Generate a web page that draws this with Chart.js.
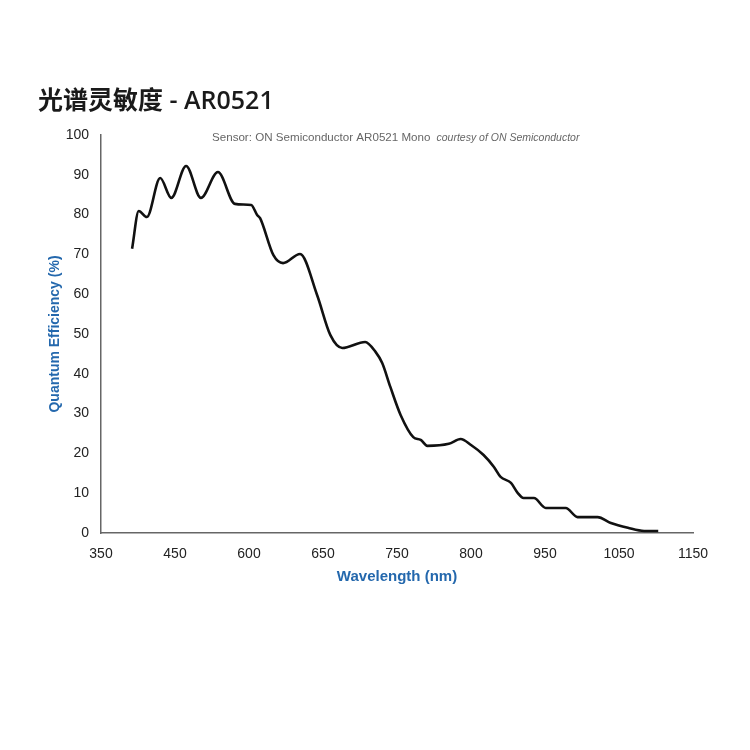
<!DOCTYPE html>
<html>
<head>
<meta charset="utf-8">
<script src="https://cdn.jsdelivr.net/npm/chart.js@4/dist/chart.umd.min.js"></script>
<style>
    html, body { margin: 0; padding: 0; background: #fff; }
    #wrap { width: 750px; height: 750px; position: relative; }
</style>
</head>
<body>
<div id="wrap"><canvas id="qeChart" width="750" height="750"></canvas></div>
<script>
// Позиции по оси X (в единицах шкалы 350..1150, шаг подписи = 100)
const wavelengthPos = [392, 401, 412, 430, 445, 465, 485, 508, 531, 553, 561, 565, 583, 596, 619, 642, 660, 676, 707, 721, 730, 741, 755, 772, 782, 791, 820, 836, 850, 867, 881, 890, 904, 913, 921, 935, 951, 978, 994, 1021, 1039, 1062, 1084, 1103];
// Квантовая эффективность, %
const qeValues = [71.4, 80.9, 79.4, 89.2, 84.2, 92.2, 84.2, 90.7, 82.7, 82.4, 79.9, 79.1, 69.8, 67.8, 70.1, 59.8, 49.7, 46.5, 48.0, 45.5, 42.7, 36.7, 29.6, 24.1, 23.4, 21.9, 22.4, 23.6, 22.1, 19.6, 16.6, 14.1, 12.6, 10.1, 8.8, 8.8, 6.3, 6.3, 4.0, 4.0, 2.5, 1.3, 0.5, 0.5];
// Подписи оси X как на оригинале
const xTickLabels = ['350', '450', '600', '650', '750', '800', '950', '1050', '1150'];
const yTicks = [0, 10, 20, 30, 40, 50, 60, 70, 80, 90, 100];

const chartTitle = '光谱灵敏度 - AR0521';
const noteMain = 'Sensor: ON Semiconductor AR0521 Mono';
const noteSmall = 'courtesy of ON Semiconductor';

const blue = '#2468ad';

// Заголовок и подпись рисуем сами
const textPlugin = {
    id: 'textPlugin',
    afterDraw(chart) {
        const ctx = chart.ctx;
        ctx.save();
        ctx.fillStyle = '#1a1a1a';
        ctx.font = '600 25px "Open Sans", "Noto Sans CJK SC"';
        ctx.textBaseline = 'middle';
        ctx.textAlign = 'left';
        ctx.fillText(chartTitle, 38, 102);

        ctx.fillStyle = '#666';
        ctx.font = '11.6px "Liberation Sans"';
        ctx.fillText(noteMain, 212, 138);
        const w = ctx.measureText(noteMain).width;
        ctx.font = 'italic 10.5px "Liberation Sans"';
        ctx.fillText(noteSmall, 212 + w + 6, 138);
        ctx.restore();
    }
};

const points = wavelengthPos.map((x, i) => ({ x: x, y: qeValues[i] }));

new Chart(document.getElementById('qeChart').getContext('2d'), {
    type: 'line',
    data: {
        datasets: [{
            label: 'QE',
            data: points,
            borderColor: '#111',
            borderWidth: 2.6,
            pointRadius: 0,
            fill: false,
            cubicInterpolationMode: 'monotone'
        }]
    },
    options: {
        responsive: false,
        animation: false,
        layout: {
            padding: { top: 135, right: 57, bottom: 160, left: 0 }
        },
        plugins: {
            legend: { display: false },
            tooltip: { enabled: false }
        },
        scales: {
            x: {
                type: 'linear',
                min: 350,
                max: 1150,
                grid: { display: false, drawTicks: false },
                border: { display: true, color: '#666', width: 1.5 },
                afterBuildTicks: function(scale) {
                    scale.ticks = xTickLabels.map((l, i) => ({ value: 350 + 100 * i }));
                },
                afterFit: function(scale) {
                    scale.height = 57;
                },
                ticks: {
                    color: '#222',
                    padding: 13,
                    maxRotation: 0,
                    autoSkip: false,
                    font: { family: 'Liberation Sans', size: 14 },
                    callback: function(value, index) {
                        return xTickLabels[index];
                    }
                },
                title: {
                    display: true,
                    text: 'Wavelength (nm)',
                    color: blue,
                    font: { family: 'Liberation Sans', size: 15, weight: 'bold' },
                    padding: { top: 4, bottom: 4 }
                }
            },
            y: {
                min: 0,
                max: 100,
                grid: { display: false, drawTicks: false },
                border: { display: true, color: '#666', width: 1.5 },
                afterBuildTicks: function(scale) {
                    scale.ticks = yTicks.map(v => ({ value: v }));
                },
                afterFit: function(scale) {
                    scale.width = 101;
                },
                ticks: {
                    color: '#222',
                    padding: 12,
                    font: { family: 'Liberation Sans', size: 14 }
                },
                title: {
                    display: true,
                    text: 'Quantum Efficiency (%)',
                    color: blue,
                    font: { family: 'Liberation Sans', size: 14, weight: 'bold' },
                    padding: { top: 47, bottom: 0 }
                }
            }
        }
    },
    plugins: [textPlugin]
});
</script>
</body>
</html>
